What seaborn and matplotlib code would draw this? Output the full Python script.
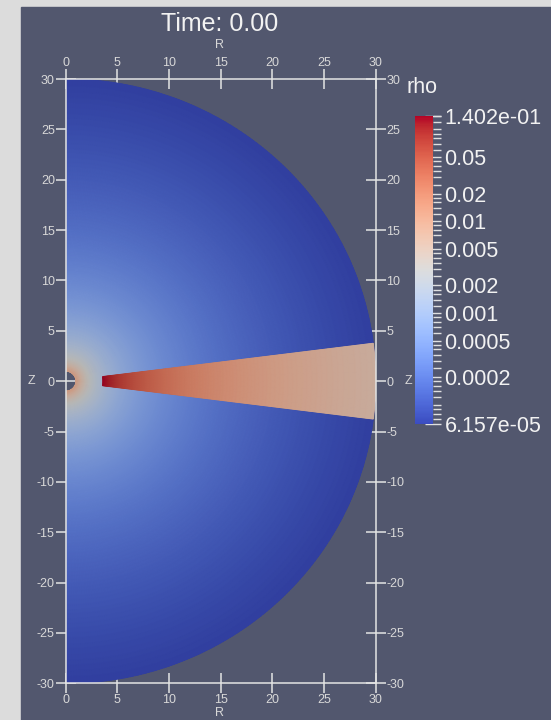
import numpy as np
import matplotlib
matplotlib.use("Agg")
import matplotlib.pyplot as plt
import seaborn as sns
from matplotlib.colors import LogNorm, ListedColormap
from matplotlib.patches import Rectangle
from matplotlib.cm import ScalarMappable

# ---------------- data ----------------
time_label = "Time: 0.00"
rho_min = 6.157e-05
rho_max = 1.402e-01
r_inner = 1.0          # inner boundary of the domain
r_outer = 30.0         # outer boundary of the domain
disk_r_in = 3.6        # inner edge of the disk wedge
disk_half_angle = 7.2  # degrees
bg_slope = -1.5        # rho ~ r^slope in the envelope
disk_slope = -1.5      # rho ~ r^slope in the disk
r_ticks = [0, 5, 10, 15, 20, 25, 30]
z_ticks = [-30, -25, -20, -15, -10, -5, 0, 5, 10, 15, 20, 25, 30]
cbar_ticks = [0.1402, 0.05, 0.02, 0.01, 0.005, 0.002, 0.001, 0.0005, 0.0002, 6.157e-05]
cbar_labels = ["1.402e-01", "0.05", "0.02", "0.01", "0.005", "0.002", "0.001",
               "0.0005", "0.0002", "6.157e-05"]
minor_subs = [1.2, 1.4, 1.6, 1.8, 2.5, 3, 3.5, 4, 4.5, 6, 7, 8, 9]

# ---------------- style ----------------
sns.set_style("white")
plt.rcParams['font.family'] = ['Liberation Sans', 'DejaVu Sans']
plt.rcParams['axes.unicode_minus'] = False

W, H = 551, 720
fig = plt.figure(figsize=(W / 100, H / 100), dpi=100)
fig.patch.set_facecolor('#dcdcdc')
panel = '#52576e'
fig.add_artist(Rectangle((21 / W, 0), 1 - 21 / W, (H - 7) / H,
                         transform=fig.transFigure, color=panel, zorder=0))

base_cmap = sns.color_palette("coolwarm", as_cmap=True)
cols = base_cmap(np.linspace(0, 1, 256))
cols[:, :3] *= 0.83
field_cmap = ListedColormap(cols)
norm = LogNorm(vmin=rho_min, vmax=rho_max)

x0, x1 = 65.7, 375.7
ytop, ybot = 79.0, 683.3
ax = fig.add_axes([x0 / W, (H - ybot) / H, (x1 - x0) / W, (ybot - ytop) / H])
ax.patch.set_alpha(0)

# envelope
r = np.linspace(r_inner, r_outer, 300)
th = np.linspace(0, np.pi, 361)
RR, TT = np.meshgrid(r, th)
X = RR * np.sin(TT)
Y = RR * np.cos(TT)
C = rho_min * (RR / r_outer) ** bg_slope
ax.pcolormesh(X, Y, C, norm=norm, cmap=field_cmap, shading='gouraud',
              rasterized=True, zorder=1)

# disk wedge
a = np.deg2rad(disk_half_angle)
rd = np.linspace(disk_r_in, r_outer, 300)
thd = np.linspace(np.pi / 2 - a, np.pi / 2 + a, 9)
RD, TD = np.meshgrid(rd, thd)
XD = RD * np.sin(TD)
YD = RD * np.cos(TD)
CD = rho_max * (RD / disk_r_in) ** disk_slope
ax.pcolormesh(XD, YD, CD, norm=norm, cmap=field_cmap, shading='gouraud',
              rasterized=True, zorder=2)

ax.set_xlim(0, 30)
ax.set_ylim(-30, 30)
ax.set_aspect('auto')

line_col = '#e4e4e4'
lab_col = '#d8d8d8'
for s in ax.spines.values():
    s.set_color(line_col)
    s.set_linewidth(1.1)
    s.set_zorder(5)

ax.set_xticks(r_ticks)
ax.set_xticklabels([str(t) for t in r_ticks])
ax.set_yticks(z_ticks)
ax.set_yticklabels([str(t) for t in z_ticks])
ax.tick_params(axis='both', direction='inout', length=14.4, width=1.1,
               color=line_col, labelcolor=lab_col, labelsize=9)
ax.tick_params(axis='x', top=True, bottom=True, labeltop=True, labelbottom=True, pad=0.2)
ax.tick_params(axis='y', left=True, right=True, labelleft=True, labelright=True, pad=0.6)

# axis titles
fig.text(220 / W, 1 - 48 / H, "R", ha='center', va='baseline', fontsize=9, color=lab_col)
fig.text(220 / W, 1 - 716.5 / H, "R", ha='center', va='baseline', fontsize=9, color=lab_col)
fig.text(31 / W, 1 - 381 / H, "Z", ha='center', va='center', fontsize=9, color=lab_col)
fig.text(408 / W, 1 - 381 / H, "Z", ha='center', va='center', fontsize=9, color=lab_col)

# title
fig.text(220 / W, 1 - 30.9 / H, time_label, ha='center', va='baseline',
         fontsize=18, color='#f2f2f2')

# colorbar
cax = fig.add_axes([415 / W, (H - 424) / H, 18 / W, 308 / H])
cb = fig.colorbar(ScalarMappable(norm=norm, cmap=base_cmap), cax=cax)
cb.outline.set_visible(False)
cax.set_yticks(cbar_ticks)
cax.set_yticklabels(cbar_labels)
minor = []
for dec in [1e-5, 1e-4, 1e-3, 1e-2, 1e-1]:
    for s in [1] + minor_subs:
        v = s * dec
        if rho_min < v < rho_max and not any(abs(v - c) / c < 1e-6 for c in cbar_ticks):
            minor.append(v)
cax.set_yticks(minor, minor=True)
cax.yaxis.set_minor_formatter(matplotlib.ticker.NullFormatter())
cax.tick_params(axis='y', which='major', direction='inout', length=11.5, width=1.0,
                color='#e0e0e0', labelcolor='#f2f2f2', labelsize=15.5, pad=2.5)
cax.tick_params(axis='y', which='minor', direction='out', length=6.0, width=1.0,
                color='#e0e0e0')
fig.text(407 / W, 1 - 93 / H, "rho", ha='left', va='baseline', fontsize=15.5, color='#f2f2f2')

fig.savefig("out.png", dpi=100, facecolor=fig.get_facecolor())
